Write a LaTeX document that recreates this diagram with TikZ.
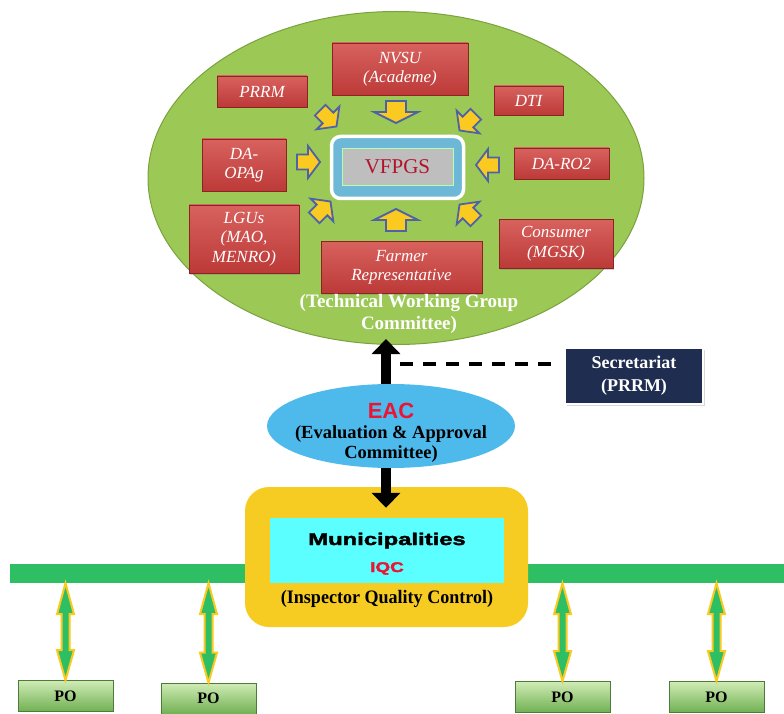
\documentclass[tikz,border=0pt]{standalone}
\usepackage{fontspec}
\setmainfont{Liberation Serif}
\newfontfamily\sansf{Liberation Sans}
\newfontfamily\heavyf[BoldFeatures={FakeBold=2}]{Liberation Sans}
\usetikzlibrary{shapes.geometric,arrows.meta,shadows,calc}
\definecolor{ellgreen}{RGB}{156,200,86}
\definecolor{ellborder}{RGB}{122,162,62}
\definecolor{redtop}{RGB}{216,98,94}
\definecolor{redbot}{RGB}{188,58,56}
\definecolor{redborder}{RGB}{140,35,35}
\definecolor{arryellow}{RGB}{250,202,32}
\definecolor{arrblue}{RGB}{78,98,168}
\definecolor{vfring}{RGB}{108,184,214}
\definecolor{vfgray}{RGB}{190,190,190}
\definecolor{vfred}{RGB}{180,18,40}
\definecolor{navy}{RGB}{31,46,80}
\definecolor{eacblue}{RGB}{78,186,236}
\definecolor{gold}{RGB}{246,204,34}
\definecolor{cyanbox}{RGB}{92,255,255}
\definecolor{bargreen}{RGB}{46,190,100}
\definecolor{potop}{RGB}{208,236,182}
\definecolor{pobot}{RGB}{112,176,82}
\definecolor{iqcred}{RGB}{235,20,50}
\begin{document}
\begin{tikzpicture}[x=1pt,y=-1pt,
  redbox/.style={draw=redborder, line width=0.8pt, top color=redtop, bottom color=redbot,
    text=white, font=\itshape\fontsize{17}{19.5}\selectfont, align=center, inner sep=0pt,
    drop shadow={shadow xshift=1.2pt, shadow yshift=-1.5pt, opacity=0.35}},
  blockarr/.style={fill=arryellow, draw=arrblue, line width=1.8pt, line join=miter},
  bigarr/.style={line width=10pt, -{Triangle[width=28pt,length=15pt]}},
  dashln/.style={line width=4.5pt, dash pattern=on 13pt off 10pt},
  pobox/.style={draw=pobot!70!black, line width=0.6pt, top color=potop, bottom color=pobot,
    minimum width=95pt, minimum height=31pt, inner sep=0pt, font=\bfseries\fontsize{16}{16}\selectfont},
  dbl/.style={fill=bargreen, draw=arryellow, line width=2pt, line join=miter}
]
\useasboundingbox (0,0) rectangle (784,714);
\fill[white] (0,0) rectangle (784,714);

% ---------- Technical working group ellipse ----------
\node[ellipse, fill=ellgreen, draw=ellborder, line width=1pt, minimum width=496pt,
  minimum height=333pt, inner sep=0pt] (twg) at (396,178) {};

\node[redbox, minimum width=136pt, minimum height=52pt] (nvsu) at (400,69) {NVSU\\(Academe)};
\node[redbox, minimum width=90pt, minimum height=31pt] (prrm) at (262,91.5) {PRRM};
\node[redbox, minimum width=69pt, minimum height=29pt] (dti) at (528.5,100.5) {DTI};
\node[redbox, minimum width=84pt, minimum height=52pt] (daopag) at (244,165) {DA-\\OPAg};
\node[redbox, minimum width=95pt, minimum height=31pt] (daro) at (561.5,163.5) {DA-RO2};
\node[redbox, minimum width=110pt, minimum height=68pt] (lgus) at (244,239) {LGUs\\(MAO,\\MENRO)};
\node[redbox, minimum width=161pt, minimum height=52pt] (farmer) at (401.5,267) {Farmer\\Representative};
\node[redbox, minimum width=114pt, minimum height=49pt] (consumer) at (556,243.5) {Consumer\\(MGSK)};

% VFPGS centre
\node[draw=white, line width=3.5pt, fill=vfring, rounded corners=9pt, minimum width=132pt,
  minimum height=62pt, inner sep=0pt,
  drop shadow={shadow xshift=1pt, shadow yshift=-1.5pt, opacity=0.3}] (vfring) at (397.5,167.5) {};
\node[draw=green!30!white, line width=0.8pt, fill=vfgray, minimum width=111pt, minimum height=37pt,
  inner sep=0pt, text=vfred, font=\fontsize{21}{21}\selectfont,
  drop shadow={shadow xshift=1.2pt, shadow yshift=-1.5pt, opacity=0.35}] (vfpgs) at (397.5,166.5) {VFPGS};

% block arrows pointing at the centre
\foreach \cx/\cy/\ang in {396/112/-90, 396/220/90}{
  \draw[blockarr, shift={(\cx,\cy)}, rotate=\ang]
    (-11,-10) -- (0,-10) -- (0,-22) -- (11,0) -- (0,22) -- (0,10) -- (-11,10) -- cycle;
}
\foreach \cx/\cy/\ang in {308/162/0, 488/165/180, 328/118/-45, 468/122/-135, 322/210/45, 468/213/135}{
  \draw[blockarr, shift={(\cx,\cy)}, rotate=\ang]
    (-11,-7.5) -- (0,-7.5) -- (0,-16) -- (12,0) -- (0,16) -- (0,7.5) -- (-11,7.5) -- cycle;
}

\node[text=white, font=\bfseries\fontsize{19}{22}\selectfont, align=center] (twglabel)
  at (409,314) {(Technical Working Group\\Committee)};

% ---------- EAC ----------
\node[ellipse, fill=eacblue, minimum width=248pt, minimum height=84pt, inner sep=0pt] (eac) at (391,426) {};
\node[anchor=base, text=iqcred, font=\sansf\bfseries\fontsize{22}{22}\selectfont] (eact) at (391,418) {EAC};
\node[anchor=base, font=\bfseries\fontsize{18.5}{18.5}\selectfont] (eacl1) at (391,438) {(Evaluation \& Approval};
\node[anchor=base, font=\bfseries\fontsize{18.5}{18.5}\selectfont] (eacl2) at (391,458) {Committee)};

\draw[bigarr, shorten >=-6pt] ([xshift=-5pt]eac.north) -- ([xshift=-5pt]eac.north |- twg.south);

% ---------- Secretariat ----------
\node[draw=white, line width=2.5pt, fill=navy, minimum width=138pt, minimum height=56pt,
  inner sep=0pt, text=white, align=center, font=\bfseries\fontsize{18}{23}\selectfont,
  drop shadow={shadow xshift=1.5pt, shadow yshift=-2pt, opacity=0.3}] (sec) at (634,376) {Secretariat\\(PRRM)};
\draw[dashln] ([xshift=9pt,yshift=12pt]eac.north |- sec.west) -- ([xshift=-12pt,yshift=12pt]sec.west);

% ---------- green bar and municipalities ----------
\node[fill=bargreen, minimum width=774pt, minimum height=19pt, inner sep=0pt] (bar) at (397,573.5) {};

\node[fill=gold, rounded corners=24pt, minimum width=283pt, minimum height=140pt, inner sep=0pt] (mun) at (386.5,557) {};
\node[fill=cyanbox, minimum width=234pt, minimum height=65pt, inner sep=0pt] (cyan) at (387,550.5) {};
\node[anchor=base, font=\heavyf\bfseries\fontsize{17}{17}\selectfont] (munt) at (387,545) {\scalebox{1.4}[1]{Municipalities}};
\node[anchor=base, text=iqcred, font=\heavyf\bfseries\fontsize{14}{14}\selectfont] (iqc) at (387,572) {\scalebox{1.35}[1]{IQC}};
\node[anchor=base, font=\bfseries\fontsize{19}{19}\selectfont] (iqcl) at (387,603) {\scalebox{0.95}[1]{(Inspector Quality Control)}};

\draw[bigarr, shorten >=10pt] ([xshift=-5pt]eac.south) -- ([xshift=-5pt]eac.south |- cyan.north);

% ---------- POs ----------
\node[pobox] (po1) at (65.5,696) {PO};
\node[pobox] (po2) at (208.5,698.5) {PO};
\node[pobox] (po3) at (562.5,697) {PO};
\node[pobox] (po4) at (716.5,697) {PO};

\foreach \pname in {po1,po2,po3,po4}{
  \draw[dbl] let \p1=(\pname.north), \p2=(bar.south) in
    (\x1,\y1) -- (\x1+8.5pt,\y1+30pt) -- (\x1+4pt,\y1+30pt) -- (\x1+4pt,\y2-31pt)
    -- (\x1+8.5pt,\y2-31pt) -- (\x1,\y2) -- (\x1-8.5pt,\y2-31pt) -- (\x1-4pt,\y2-31pt)
    -- (\x1-4pt,\y1+30pt) -- (\x1-8.5pt,\y1+30pt) -- cycle;
}
\end{tikzpicture}
\end{document}
